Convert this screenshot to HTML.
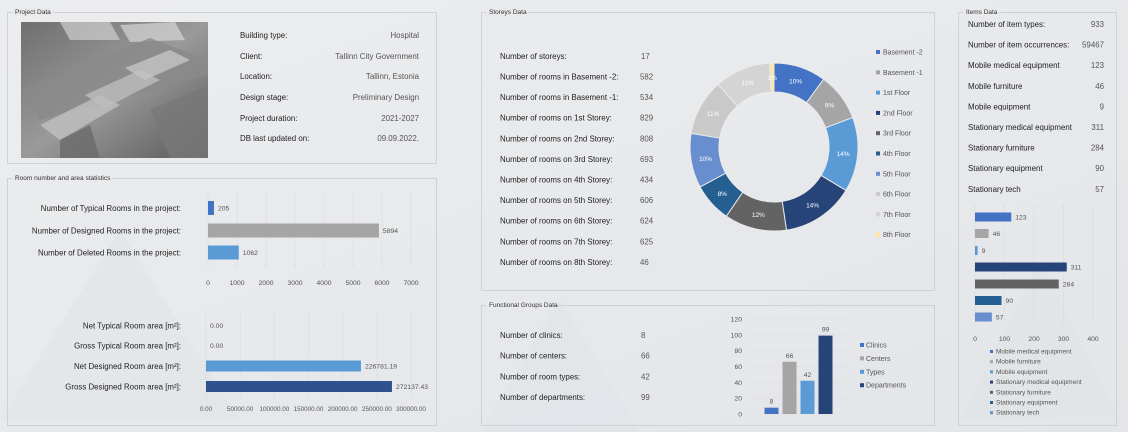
<!DOCTYPE html>
<html><head><meta charset="utf-8">
<style>
html,body{margin:0;padding:0;background:#e8e9eb;}
svg{display:block;font-family:"Liberation Sans",sans-serif;}
.lbl{font-size:7.9px;fill:#222;}
.val{font-size:7.9px;fill:#555;}
.ptitle{font-size:6.5px;fill:#333;}
.tick{font-size:6.8px;fill:#555;}
.tick.sm{font-size:6.3px;}
.leg{font-size:7px;fill:#555;}
</style></head>
<body>
<svg id="dash" width="1128" height="432" viewBox="0 0 1128 432">
<defs>
<linearGradient id="bg" x1="0" y1="0" x2="1" y2="1"><stop offset="0" stop-color="#ecedef"/><stop offset="1" stop-color="#e3e5e8"/></linearGradient>
<linearGradient id="photo" x1="0" y1="0" x2="1" y2="1"><stop offset="0" stop-color="#6f6f6f"/><stop offset="0.5" stop-color="#9a9a9a"/><stop offset="1" stop-color="#5a5a5a"/></linearGradient>
</defs>
<rect width="1128" height="432" fill="url(#bg)"/>
<g fill="#e0e3e8" opacity="0.5">
<polygon points="0,420 120,230 240,420"/><polygon points="480,432 560,300 640,432"/><polygon points="960,420 1040,260 1120,420"/>
</g>
<g fill="none" stroke="#cfd1d4">
<rect x="7.5" y="12.5" width="429" height="151"/>
<rect x="7.5" y="178.5" width="429" height="247"/>
<rect x="481.5" y="12.5" width="453" height="278"/>
<rect x="481.5" y="305.5" width="453" height="120"/>
<rect x="958.5" y="12.5" width="158" height="413"/>
</g>
<g>
<rect x="12" y="8" width="42" height="8" fill="#e9eaec"/><text class="ptitle" x="15" y="14">Project Data</text>
<rect x="12" y="174" width="100" height="8" fill="#e9eaec"/><text class="ptitle" x="15" y="180">Room number and area statistics</text>
<rect x="486" y="8" width="42" height="8" fill="#e9eaec"/><text class="ptitle" x="489" y="14">Storeys Data</text>
<rect x="486" y="301" width="68" height="8" fill="#e9eaec"/><text class="ptitle" x="489" y="307">Functional Groups Data</text>
<rect x="963" y="8" width="36" height="8" fill="#e9eaec"/><text class="ptitle" x="966" y="14">Items Data</text>
</g>
<g>
<rect x="21" y="22" width="187" height="136" fill="url(#photo)"/>
<polygon points="60,22 110,22 120,40 70,40" fill="#cfcfcf" opacity="0.7"/>
<polygon points="120,25 175,22 185,40 130,42" fill="#d5d5d5" opacity="0.7"/>
<polygon points="21,90 150,38 208,60 208,75 40,120" fill="#8a8a8a" opacity="0.8"/>
<polygon points="40,125 100,95 120,105 60,140" fill="#c0c0c0" opacity="0.8"/>
<polygon points="85,95 140,70 160,80 105,108" fill="#bdbdbd" opacity="0.8"/>
<polygon points="125,68 170,50 190,60 145,80" fill="#c4c4c4" opacity="0.8"/>
<polygon points="60,140 90,125 100,158 60,158" fill="#6a6a6a" opacity="0.8"/>
<polygon points="150,110 208,85 208,158 170,158" fill="#787878" opacity="0.8"/>
</g>
<g>
<text class="lbl" x="240" y="38">Building type:</text><text class="val" x="419" y="38" text-anchor="end">Hospital</text>
<text class="lbl" x="240" y="59">Client:</text><text class="val" x="419" y="59" text-anchor="end">Tallinn City Government</text>
<text class="lbl" x="240" y="79">Location:</text><text class="val" x="419" y="79" text-anchor="end">Tallinn, Estonia</text>
<text class="lbl" x="240" y="100">Design stage:</text><text class="val" x="419" y="100" text-anchor="end">Preliminary Design</text>
<text class="lbl" x="240" y="121">Project duration:</text><text class="val" x="419" y="121" text-anchor="end">2021-2027</text>
<text class="lbl" x="240" y="141">DB last updated on:</text><text class="val" x="419" y="141" text-anchor="end">09.09.2022.</text>
</g>
<g id="storeyText"></g>
<g id="funcText"></g>
<g id="itemText"></g>
<g id="roomChart"></g>
<g id="areaChart"></g>
<g id="donut"></g>
<g id="funcChart"></g>
<g id="itemChart"></g>
</svg>
<script>
// Room counts
const roomLabels=["Number of Typical Rooms in the project:","Number of Designed Rooms in the project:","Number of Deleted Rooms in the project:"];
const roomValues=[205,5894,1062];
const roomTicks=[0,1000,2000,3000,4000,5000,6000,7000];
// Areas
const areaLabels=["Net Typical Room area [m²]:","Gross Typical Room area [m²]:","Net Designed Room area [m²]:","Gross Designed Room area [m²]:"];
const areaValues=[0,0,226781.19,272137.43];
const areaTicks=[0,50000,100000,150000,200000,250000,300000];
// Storeys
const storeyCount=17;
const storeyLabels=["Basement -2","Basement -1","1st Floor","2nd Floor","3rd Floor","4th Floor","5th Floor","6th Floor","7th Floor","8th Floor"];
const storeyRowLabels=["Number of rooms in Basement -2:","Number of rooms in Basement -1:","Number of rooms on 1st Storey:","Number of rooms on 2nd Storey:","Number of rooms on 3rd Storey:","Number of rooms on 4th Storey:","Number of rooms on 5th Storey:","Number of rooms on 6th Storey:","Number of rooms on 7th Storey:","Number of rooms on 8th Storey:"];
const storeyValues=[582,534,829,808,693,434,606,624,625,46];
// Functional groups
const funcLabels=["Clinics","Centers","Types","Departments"];
const funcRowLabels=["Number of clinics:","Number of centers:","Number of room types:","Number of departments:"];
const funcValues=[8,66,42,99];
const funcTicks=[0,20,40,60,80,100,120];
// Items
const itemRowLabels=["Number of item types:","Number of item occurrences:","Mobile medical equipment","Mobile furniture","Mobile equipment","Stationary medical equipment","Stationary furniture","Stationary equipment","Stationary tech"];
const itemRowValues=[933,59467,123,46,9,311,284,90,57];
const itemLabels=["Mobile medical equipment","Mobile furniture","Mobile equipment","Stationary medical equipment","Stationary furniture","Stationary equipment","Stationary tech"];
const itemValues=[123,46,9,311,284,90,57];
const itemTicks=[0,100,200,300,400];

const NS="http://www.w3.org/2000/svg";
const pal=["#4472c4","#a5a5a5","#5b9bd5","#264478","#636363","#255e91","#698ed0","#c9c9c9","#d4d4d4","#ffe699"];
function el(tag,attrs,parent,txt){const e=document.createElementNS(NS,tag);for(const k in attrs)e.setAttribute(k,attrs[k]);if(txt!==undefined)e.textContent=txt;parent.appendChild(e);return e;}

const st=document.getElementById('storeyText');
let t=el('text',{class:'lbl',x:500,y:59},st,"Number of storeys:");


t=el('text',{class:'val',x:641,y:59},st,String(storeyCount));


storeyRowLabels.forEach((l,i)=>{const y=79.5+i*20.6;
 let a=el('text',{class:'lbl',x:500,y:y},st,l);
 
 
 let b=el('text',{class:'val',x:640,y:y},st,String(storeyValues[i]));
 
 
});
const ft=document.getElementById('funcText');
funcRowLabels.forEach((l,i)=>{const y=338+i*20.7;
 let a=el('text',{class:'lbl',x:500,y:y},ft,l);
 
 
 let b=el('text',{class:'val',x:641,y:y},ft,String(funcValues[i]));
 
 
});
const it=document.getElementById('itemText');
itemRowLabels.forEach((l,i)=>{const y=27+i*20.6;
 let a=el('text',{class:'lbl',x:968,y:y},it,l);
 
 
 let b=el('text',{class:'val',x:1104,y:y,'text-anchor':'end'},it,String(itemRowValues[i]));
 
 
});

function hbar(g,labels,values,ticks,x0,x1,ys,h,tickY,colors,fmt,labelX,tickFmt,gridTop,gridBot,tcls){
 const max=ticks[ticks.length-1];const sx=v=>x0+(v/max)*(x1-x0);
 ticks.forEach(tv=>{el('line',{x1:sx(tv),x2:sx(tv),y1:gridTop,y2:gridBot,stroke:'#d6d7d9','stroke-dasharray':'1,1'},g);
  let tt=el('text',{class:tcls,x:sx(tv),y:tickY,'text-anchor':'middle'},g,tickFmt(tv));
  
  });
 values.forEach((v,i)=>{const y=ys[i];
  if(labels){let l=el('text',{class:'lbl',x:labelX,y:y+3,'text-anchor':'end'},g,labels[i]);
   
   }
  const w=Math.max(sx(v)-x0,v>0?2:0);
  let r=el('rect',{x:x0,y:y-h/2,width:w,height:h,fill:colors[i%colors.length]},g);
  
  
  let vt=el('text',{class:'tick',x:x0+w+4,y:y+2.5},g,fmt(v));
  
  });
}
hbar(document.getElementById('roomChart'),roomLabels,roomValues,roomTicks,208,411,[208,230.5,252.5],14,285,["#4472c4","#a5a5a5","#5b9bd5"],v=>String(v),181,v=>String(v),192,268,'tick');
hbar(document.getElementById('areaChart'),areaLabels,areaValues,areaTicks,206,411,[325.5,345.5,366,386.5],11,411,["#5b9bd5","#a5a5a5","#5b9bd5","#2f528f"],v=>v.toFixed(2),181,v=>v===0?"0.00":v.toFixed(2),313,398,'tick sm');

const dg=document.getElementById('donut');
const cx=774,cy=147,R=84,r0=55;const tot=storeyValues.reduce((a,b)=>a+b,0);
let ang=-Math.PI/2;
storeyValues.forEach((v,i)=>{const a2=ang+v/tot*2*Math.PI;
 const p=(a,rr)=>[cx+rr*Math.cos(a),cy+rr*Math.sin(a)];
 const [x1,y1]=p(ang,R),[x2,y2]=p(a2,R),[x3,y3]=p(a2,r0),[x4,y4]=p(ang,r0);const lg=(a2-ang)>Math.PI?1:0;
 let s=el('path',{d:`M${x1},${y1}A${R},${R} 0 ${lg} 1 ${x2},${y2}L${x3},${y3}A${r0},${r0} 0 ${lg} 0 ${x4},${y4}Z`,fill:pal[i],stroke:'#e9eaec','stroke-width':1},dg);
 
 
 const m=(ang+a2)/2;const [lx,ly]=p(m,(R+r0)/2);
 let lt=el('text',{x:lx,y:ly+2.5,'text-anchor':'middle','font-size':'6.5px',fill:'#fff'},dg,Math.round(v/tot*100)+"%");
 
 
 ang=a2;});
storeyLabels.forEach((l,i)=>{const y=53+i*20.3;
 el('rect',{x:876,y:y-3,width:4,height:4,fill:pal[i]},dg);
 let lt=el('text',{class:'leg',x:883,y:y+1.5},dg,l);
 
 });

const fg=document.getElementById('funcChart');
const fy0=414,fy1=319,fmax=funcTicks[funcTicks.length-1];const fy=v=>fy0-(v/fmax)*(fy0-fy1);
const fcols=["#4472c4","#a5a5a5","#5b9bd5","#264478"];
funcTicks.forEach(tv=>{el('line',{x1:752,x2:848,y1:fy(tv),y2:fy(tv),stroke:'#dcdde0','stroke-width':0.5},fg);
 let tt=el('text',{class:'tick',x:742,y:fy(tv)+2.5,'text-anchor':'end'},fg,String(tv));
 
 });
funcValues.forEach((v,i)=>{const x=764.5+i*18;
 let r=el('rect',{x:x,y:fy(v),width:14,height:fy0-fy(v),fill:fcols[i]},fg);
 
 
 let vt=el('text',{class:'tick',x:x+7,y:fy(v)-4,'text-anchor':'middle'},fg,String(v));
 
 });
funcLabels.forEach((l,i)=>{const y=346+i*13.4;
 el('rect',{x:860,y:y-3,width:4,height:4,fill:fcols[i]},fg);
 let lt=el('text',{class:'leg',x:866,y:y+1.5},fg,l);
 
 });

const ig=document.getElementById('itemChart');
const icols=["#4472c4","#a5a5a5","#5b9bd5","#264478","#636363","#255e91","#698ed0"];
hbar(ig,null,itemValues,itemTicks,975,1093,[217,233.5,250.5,267,284,300.5,317],9,341,icols,v=>String(v),0,v=>String(v),205,325,'tick');
itemLabels.forEach((l,i)=>{const y=353+i*10.2;
 el('rect',{x:990,y:y-3,width:3,height:3,fill:icols[i]},ig);
 let lt=el('text',{x:996,y:y+0.5,'font-size':'6.5px',fill:'#555'},ig,l);
 
 });
</script>
</body></html>
